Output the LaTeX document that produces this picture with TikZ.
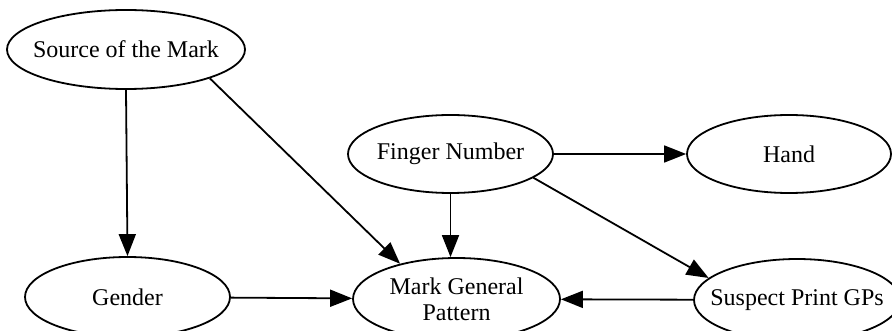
\documentclass[tikz,border=0pt]{standalone}
\usepackage{fontspec}
\setmainfont{Liberation Serif}
\usetikzlibrary{shapes.geometric}
\usetikzlibrary{arrows.meta}

\tikzset{
  var/.style={ellipse,draw,line width=0.9pt,inner xsep=-10pt,inner ysep=-5pt,
    align=center,font=\fontsize{12}{13}\selectfont},
  dep/.style={line width=0.9pt,-{Triangle[length=11pt,width=8.5pt]}}
}

\begin{document}
\begin{tikzpicture}[x=0.5pt,y=-0.5pt]
\useasboundingbox (0,0) rectangle (892,331);
\node[var,minimum width=119pt,minimum height=39.5pt] (src) at (126,49.5) {Source of the Mark};
\node[var,minimum width=102.5pt,minimum height=39pt] (finger) at (450.5,154) {Finger Number};
\node[var,minimum width=102pt,minimum height=39pt] (hand) at (789,154) {Hand};
\node[var,minimum width=102.5pt,minimum height=40pt] (gender) at (127.5,297) {Gender};
\node[var,minimum width=103.5pt,minimum height=41pt] (mgp) at (456.5,299) {Mark General\\Pattern};
\node[var,minimum width=103pt,minimum height=41pt] (spg) at (797,300) {Suspect Print GPs};

\draw[dep] (src.south) -- (gender.north);
\draw[dep] (src.-19) -- (mgp.148);
\draw[dep] (finger) -- (hand);
\draw[dep] (finger.south) -- (mgp.north -| finger.south);
\draw[dep] (finger.-16) -- (spg.166);
\draw[dep] (gender) -- (mgp);
\draw[dep] (spg) -- (mgp);
\end{tikzpicture}
\end{document}
